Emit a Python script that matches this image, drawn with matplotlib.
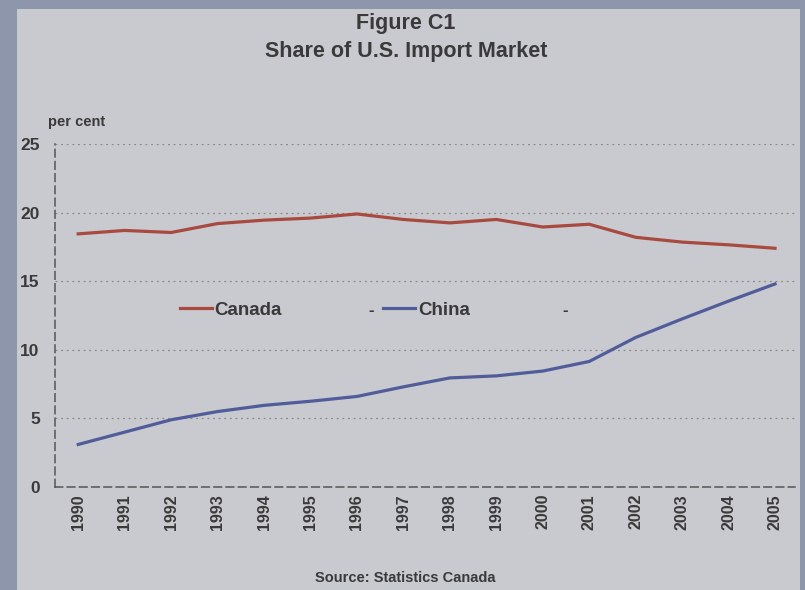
import matplotlib.pyplot as plt
from matplotlib.patches import Rectangle

plt.rcParams['font.family'] = ['Liberation Sans', 'DejaVu Sans']
plt.rcParams['font.weight'] = 'bold'

# Part de marché des importations américaines (en pour cent)
years = list(range(1990, 2006))
canada = [18.45, 18.7, 18.55, 19.2, 19.45, 19.6, 19.9, 19.5, 19.25, 19.5,
          18.95, 19.15, 18.2, 17.85, 17.65, 17.4]
china = [3.1, 4.0, 4.9, 5.5, 5.95, 6.25, 6.6, 7.3, 7.95, 8.1,
         8.45, 9.15, 10.9, 12.25, 13.55, 14.8]
y_ticks = [0, 5, 10, 15, 20, 25]

fond = '#c9cacf'
bord = '#8e96ab'
texte = '#3a3a3a'

fig = plt.figure(figsize=(8.05, 5.90), dpi=100)
fig.patch.set_facecolor(bord)
fig.patches.append(Rectangle((17 / 805, 0), 783 / 805, 1 - 9 / 590,
                             transform=fig.transFigure, facecolor=fond,
                             edgecolor='none', zorder=-5))

ax = fig.add_axes([55 / 805, 103 / 590, 740 / 805, 343 / 590])
ax.set_facecolor('none')
ax.set_zorder(3)

ax.plot(years, canada, color='#a84a3f', lw=2.3, label='Canada')
ax.plot(years, china, color='#515c9a', lw=2.3, label='China')

ax.set_xlim(1989.5, 2005.43)
ax.set_ylim(0, 25)
ax.set_yticks(y_ticks)
ax.set_xticks(years)
ax.set_xticklabels([str(a) for a in years], rotation=90)
ax.tick_params(length=0, colors=texte, labelsize=12.5)
ax.tick_params(axis='x', labelsize=11.5, pad=5)
ax.tick_params(axis='y', pad=11)

ax.grid(axis='y', linestyle=(0, (1.5, 3)), color='#8a8a8a', lw=0.9)
ax.grid(axis='x', visible=False)
for s in ['top', 'right']:
    ax.spines[s].set_visible(False)
for s in ['left', 'bottom']:
    ax.spines[s].set_linestyle((0, (5, 3)))
    ax.spines[s].set_color('#555555')
    ax.spines[s].set_linewidth(1.1)

leg = ax.legend(loc='center left', bbox_to_anchor=(0.169, 0.516), ncol=2,
                frameon=False, handlelength=1.7, handletextpad=0.15,
                columnspacing=5.4, borderaxespad=0, borderpad=0,
                prop={'size': 13.5, 'weight': 'bold'})
for t in leg.get_texts():
    t.set_color(texte)
ax.text(0.427, 0.515, '-', transform=ax.transAxes, fontsize=12,
        color=texte, ha='center', va='center')
ax.text(0.69, 0.515, '-', transform=ax.transAxes, fontsize=12,
        color=texte, ha='center', va='center')

fig.text(0.504, 1 - 23 / 590, 'Figure C1', ha='center', va='center',
         fontsize=15.5, color=texte)
fig.text(0.504, 1 - 51 / 590, 'Share of U.S. Import Market', ha='center',
         va='center', fontsize=15.5, color=texte)
fig.text(48 / 805, 1 - 122 / 590, 'per cent', ha='left', va='center',
         fontsize=10.5, color=texte)
fig.text(0.504, 1 - 578 / 590, 'Source: Statistics Canada', ha='center',
         va='center', fontsize=10.5, color=texte)

fig.savefig('out.png', dpi=100, facecolor=fig.get_facecolor())
